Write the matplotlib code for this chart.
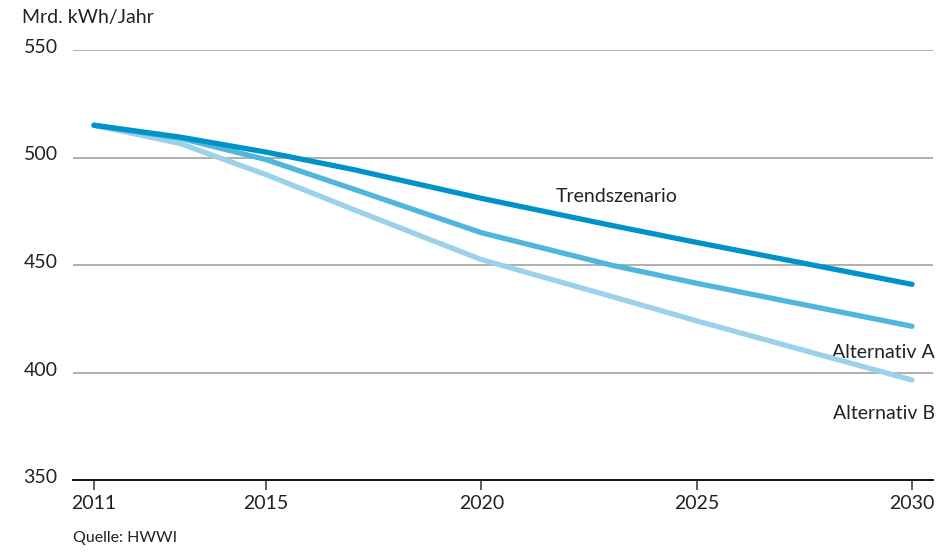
import matplotlib
matplotlib.use("Agg")
import matplotlib.pyplot as plt
import matplotlib.transforms as mtransforms

years = [2011, 2013, 2015, 2017, 2020, 2023, 2025, 2030]
trend = [515, 509.5, 502.5, 494.5, 481, 468.5, 460.5, 441]
alt_a = [515, 509, 499, 485.5, 465, 450, 441.5, 421.5]
alt_b = [515, 506.5, 492, 476, 452.5, 435.5, 424, 396.5]

series_names = ["Trendszenario", "Alternativ A", "Alternativ B"]
colors = ["#0093c7", "#4fb6dc", "#9bd2ea"]

xticks = [2011, 2015, 2020, 2025, 2030]
yticks = [350, 400, 450, 500, 550]
y_title = "Mrd. kWh/Jahr"
source = "Quelle: HWWI"

plt.rcParams['font.family'] = ['Lato', 'DejaVu Sans']
text_color = "#222222"

fig = plt.figure(figsize=(9.4, 5.52), dpi=100)
W, H = 940, 552
ax = fig.add_axes([73 / W, 1 - 480 / H, (933 - 73) / W, (480 - 50) / H])

x0 = 2011 - 21 / 43.05
x1 = 2030 + 21 / 43.05
ax.set_xlim(x0, x1)
ax.set_ylim(350, 550)

for yv in yticks[1:]:
    ax.axhline(yv, color="#9a9a9a", lw=1.1, zorder=1)
ax.axhline(350, color="#111111", lw=1.4, zorder=3, clip_on=False)

for vals, c in zip([alt_b, alt_a, trend], [colors[2], colors[1], colors[0]]):
    ax.plot(years, vals, color=c, lw=3.8, solid_capstyle="round",
            solid_joinstyle="round", zorder=4, clip_on=False)

for s in ax.spines.values():
    s.set_visible(False)

ax.set_xticks(xticks)
ax.set_xticklabels([str(v) for v in xticks])
ax.tick_params(axis="x", direction="out", length=7.5, width=1.1, color="#333333",
               labelsize=14, labelcolor=text_color, pad=3.5)
ax.set_yticks(yticks)
ax.set_yticklabels([str(v) for v in yticks])
ax.tick_params(axis="y", length=0, labelsize=14, labelcolor=text_color, pad=11)
offset = mtransforms.ScaledTranslation(0, -3 / 100, fig.dpi_scale_trans)
for lab in ax.get_yticklabels():
    lab.set_verticalalignment("baseline")
    lab.set_transform(lab.get_transform() + offset)

fig.text(22 / W, 1 - 23 / H, y_title, fontsize=14, color=text_color, va="baseline", ha="left")
fig.text(73 / W, 1 - 542 / H, source, fontsize=11.5, color=text_color, va="baseline", ha="left")

ax.text(2023.15, 482, series_names[0], fontsize=14, color=text_color, ha="center", va="center")
ax.annotate(series_names[1], xy=(x1 + 2 / 43.05, 409.5), xycoords="data", ha="right", va="center",
            fontsize=14, color=text_color, annotation_clip=False)
ax.annotate(series_names[2], xy=(x1 + 2 / 43.05, 381), xycoords="data", ha="right", va="center",
            fontsize=14, color=text_color, annotation_clip=False)

fig.savefig("out.png", dpi=100)
